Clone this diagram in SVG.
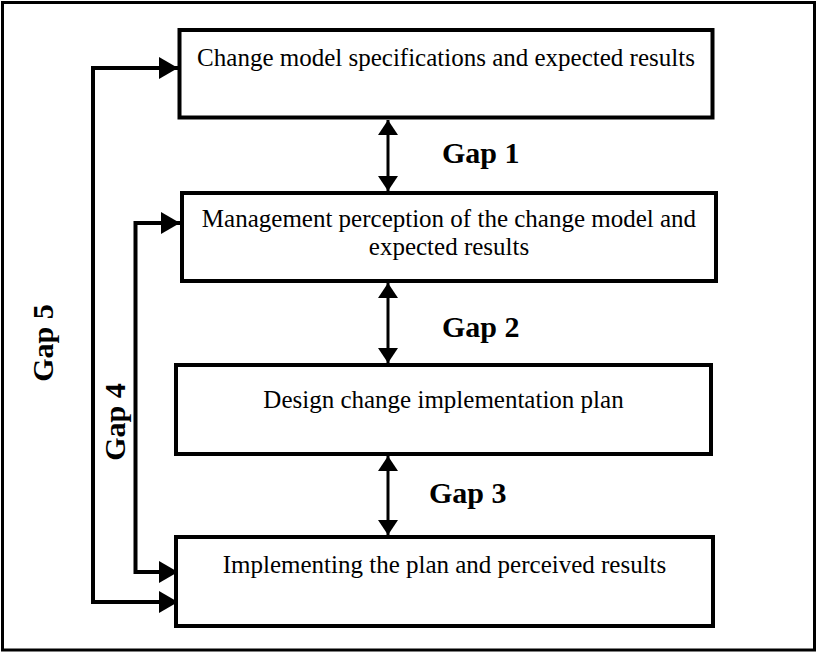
<svg xmlns="http://www.w3.org/2000/svg" width="821" height="654" viewBox="0 0 821 654">
<style>
.box{fill:#fff;stroke:#000;stroke-width:4}
.t{font-family:"Liberation Serif","Times New Roman",serif;font-size:25px;fill:#000;text-anchor:middle}
.g{font-family:"Liberation Serif","Times New Roman",serif;font-size:30px;font-weight:bold;fill:#000}
.c{fill:none;stroke:#000;stroke-width:4}
.v{fill:none;stroke:#000;stroke-width:3}
</style>
<defs>
<marker id="ah" markerUnits="userSpaceOnUse" markerWidth="20" markerHeight="22" refX="19" refY="11" orient="auto-start-reverse">
<path d="M0,0 L19,11 L0,22 z" fill="#000"/>
</marker>
<marker id="av" markerUnits="userSpaceOnUse" markerWidth="16" markerHeight="20" refX="15" refY="10" orient="auto-start-reverse">
<path d="M0,0 L15,10 L0,20 z" fill="#000"/>
</marker>
</defs>
<rect width="821" height="654" fill="#fff"/>
<rect x="2.5" y="2.5" width="812" height="647.5" fill="none" stroke="#000" stroke-width="3"/>
<g id="connectors">
<path class="c" d="M178,68 H93 V602 H178" marker-start="url(#ah)" marker-end="url(#ah)"/>
<path class="c" d="M180,223 H135.5 V572 H178" marker-start="url(#ah)" marker-end="url(#ah)"/>
<path class="v" d="M388,120 V191" marker-start="url(#av)" marker-end="url(#av)"/>
<path class="v" d="M388,283 V363" marker-start="url(#av)" marker-end="url(#av)"/>
<path class="v" d="M388,456 V535" marker-start="url(#av)" marker-end="url(#av)"/>
</g>
<g id="node1">
<rect class="box" x="179.5" y="30" width="533" height="87.5"/>
<text class="t" x="446" y="66">Change model specifications and expected results</text>
</g>
<g id="node2">
<rect class="box" x="182" y="193" width="534" height="88"/>
<text class="t" x="449" y="227">Management perception of the change model and</text>
<text class="t" x="449" y="255">expected results</text>
</g>
<g id="node3">
<rect class="box" x="176" y="365" width="535" height="89"/>
<text class="t" x="443.5" y="408">Design change implementation plan</text>
</g>
<g id="node4">
<rect class="box" x="176" y="537" width="537" height="89"/>
<text class="t" x="444.5" y="573">Implementing the plan and perceived results</text>
</g>
<g id="labels">
<text class="g" x="442" y="163">Gap 1</text>
<text class="g" x="442" y="337">Gap 2</text>
<text class="g" x="429" y="503">Gap 3</text>
<text class="g" transform="translate(53,343) rotate(-90)" text-anchor="middle">Gap 5</text>
<text class="g" transform="translate(125,422) rotate(-90)" text-anchor="middle">Gap 4</text>
</g>
</svg>
